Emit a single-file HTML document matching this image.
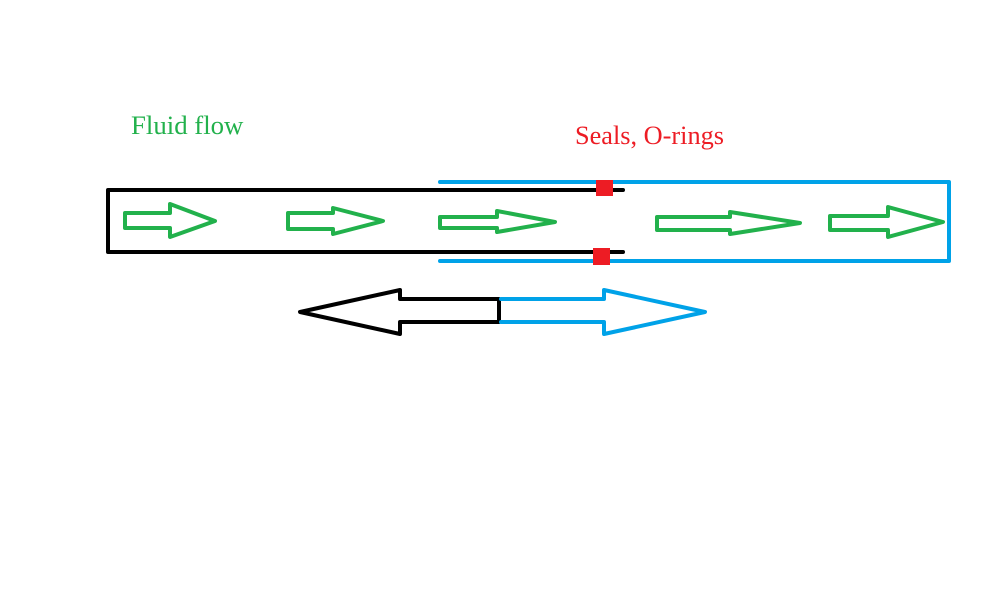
<!DOCTYPE html>
<html><head><style>
body{margin:0;background:#fff;}
svg{display:block;}
</style></head><body>
<svg width="990" height="601" viewBox="0 0 990 601" xmlns="http://www.w3.org/2000/svg">
<rect width="990" height="601" fill="#fff"/>
<text x="131" y="134" font-family="Liberation Serif, serif" font-size="26.8" fill="#22b14c">Fluid flow</text>
<text x="575" y="144" font-family="Liberation Serif, serif" font-size="26.3" fill="#ed1c24">Seals, O-rings</text>
<g fill="none" stroke-linecap="round" stroke-linejoin="round">
<path d="M440 182 H949 V261 H440" stroke="#00a2e8" stroke-width="4"/>
<path d="M623 190 H108 V252 H623" stroke="#000" stroke-width="4"/>
<g stroke="#22b14c" stroke-width="4">
<path d="M125 213 H170 V204 L215 221 L170 237 V228 H125 Z"/>
<path d="M288 213 H333 V208 L383 221 L333 234 V229 H288 Z"/>
<path d="M440 217 H497 V211 L555 222 L497 232 V228 H440 Z"/>
<path d="M657 217 H730 V212 L800 223 L730 234 V230 H657 Z"/>
<path d="M830 216 H888 V207 L943 222 L888 237 V230 H830 Z"/>
</g>
<path d="M499 299 H400 V290 L300 312 L400 334 V322 H499 Z" stroke="#000" stroke-width="4"/>
<path d="M501 299 H604 V290 L705 312 L604 334 V322 H501" stroke="#00a2e8" stroke-width="4"/>
</g>
<rect x="596" y="180" width="17" height="16" fill="#ed1c24"/>
<rect x="593" y="248" width="17" height="17" fill="#ed1c24"/>
</svg>
</body></html>
